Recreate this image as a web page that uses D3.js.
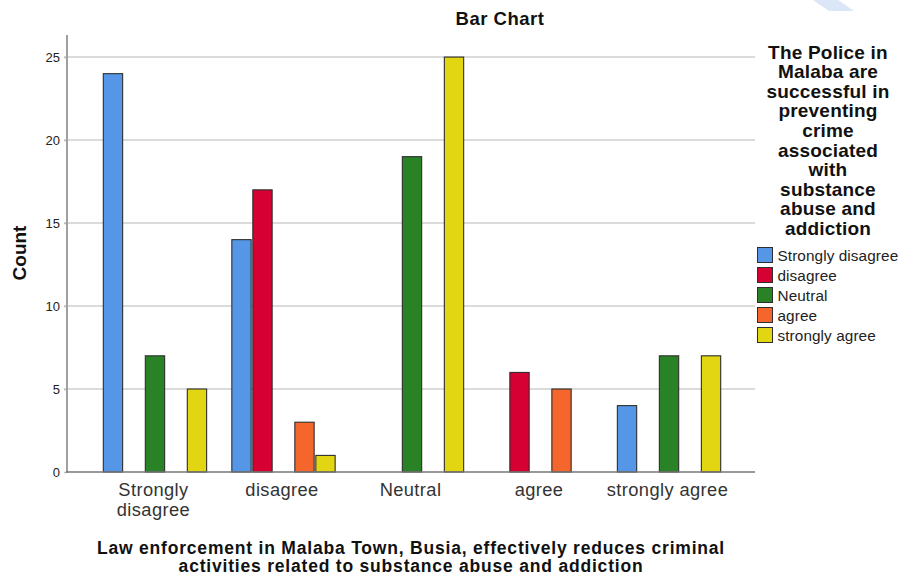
<!DOCTYPE html>
<html>
<head>
<meta charset="utf-8">
<script src="https://cdn.jsdelivr.net/npm/d3@7"></script>
<style>
  html, body { margin: 0; padding: 0; background: #fff; }
  svg { display: block; font-family: "Liberation Sans", Arial, sans-serif; }
</style>
</head>
<body>
<svg id="chart" width="899" height="577"></svg>
<script>
// ---- data ----
const categories = ["Strongly disagree", "disagree", "Neutral", "agree", "strongly agree"];
const categoryLabels = [["Strongly", "disagree"], ["disagree"], ["Neutral"], ["agree"], ["strongly agree"]];
const seriesNames = ["Strongly disagree", "disagree", "Neutral", "agree", "strongly agree"];
const seriesColors = ["#5596e6", "#d60032", "#2a8227", "#f4662b", "#e2d511"];
const valuesStronglyDisagree = [24, 14, 0, 0, 4];
const valuesDisagree = [0, 17, 0, 6, 0];
const valuesNeutral = [7, 0, 19, 0, 7];
const valuesAgree = [0, 3, 0, 5, 0];
const valuesStronglyAgree = [5, 1, 25, 0, 7];
const yTicks = [0, 5, 10, 15, 20, 25];
const chartTitle = "Bar Chart";
const yTitle = "Count";
const xTitleLines = ["Law enforcement in Malaba Town, Busia, effectively reduces criminal",
                     "activities related to substance abuse and addiction"];
const legendTitleLines = ["The Police in", "Malaba are", "successful in", "preventing", "crime",
                          "associated", "with", "substance", "abuse and", "addiction"];

const seriesValues = [valuesStronglyDisagree, valuesDisagree, valuesNeutral, valuesAgree, valuesStronglyAgree];

// ---- layout ----
const svg = d3.select("#chart");
const plotLeft = 67, plotRight = 755, plotTop = 35, plotBottom = 472;

// faint decorative watermark stroke (top right of the original image)
svg.append("path").attr("d", "M813,0 L838,0 L854,11 L829,11 Z").attr("fill", "#dbe7f6");

const y = d3.scaleLinear().domain([0, 26.33]).range([plotBottom, plotTop]);
const x0 = d3.scaleBand().domain(categories).range([plotLeft + 2, plotRight]).paddingInner(0).paddingOuter(0.169);
const groupWidth = 105;
const x1 = d3.scaleBand().domain(seriesNames).range([0, groupWidth]).paddingInner(0.08).paddingOuter(0.04);

// gridlines
svg.append("g").selectAll("line").data(yTicks.filter(d => d > 0)).join("line")
  .attr("x1", plotLeft - 3).attr("x2", plotRight)
  .attr("y1", d => y(d)).attr("y2", d => y(d))
  .attr("stroke", "#cfcfcf").attr("stroke-width", 1.5);

// y axis via d3
const yAxis = d3.axisLeft(y).tickValues(yTicks).tickSize(3).tickPadding(4);
const yg = svg.append("g").attr("transform", `translate(${plotLeft},0)`).call(yAxis);
yg.select(".domain").remove();
yg.selectAll(".tick line").attr("stroke", "#bdbdbd").attr("stroke-width", 1.5);
yg.selectAll(".tick text").attr("font-size", 13).attr("fill", "#222")
  .attr("font-family", "'Liberation Sans', Arial, sans-serif");

// axis lines
svg.append("line").attr("x1", plotLeft).attr("x2", plotLeft).attr("y1", plotTop).attr("y2", plotBottom + 1)
  .attr("stroke", "#a0a0a0").attr("stroke-width", 2);

// bars
const groups = svg.append("g").selectAll("g").data(categories).join("g")
  .attr("transform", c => `translate(${x0(c) + (x0.bandwidth() - groupWidth) / 2},0)`);

groups.selectAll("rect")
  .data((c, ci) => seriesNames.map((s, si) => ({ s, si, v: seriesValues[si][ci] })).filter(d => d.v > 0))
  .join("rect")
  .attr("x", d => x1(d.s))
  .attr("width", x1.bandwidth())
  .attr("y", d => y(d.v))
  .attr("height", d => y(0) - y(d.v))
  .attr("fill", d => seriesColors[d.si])
  .attr("stroke", "#2e2e2e").attr("stroke-width", 1.1);

// x axis line
svg.append("line").attr("x1", plotLeft - 1).attr("x2", plotRight).attr("y1", plotBottom).attr("y2", plotBottom)
  .attr("stroke", "#777").attr("stroke-width", 1.6);

// x labels
const xl = svg.append("g").selectAll("text").data(categories).join("text")
  .attr("x", c => x0(c) + x0.bandwidth() / 2 - 1.5)
  .attr("y", 496)
  .attr("text-anchor", "middle")
  .attr("font-size", 18.3)
  .attr("letter-spacing", 0.4)
  .attr("fill", "#333");
xl.selectAll("tspan").data((c, i) => categoryLabels[i]).join("tspan")
  .attr("x", function () { return d3.select(this.parentNode).attr("x"); })
  .attr("dy", (d, i) => i === 0 ? 0 : 19.5)
  .text(d => d);

// title
svg.append("text").attr("x", 500).attr("y", 25).attr("text-anchor", "middle")
  .attr("font-size", 18.5).attr("letter-spacing", 0.5).attr("font-weight", "bold").attr("fill", "#111").text(chartTitle);

// y title
svg.append("text").attr("transform", "translate(26,253) rotate(-90)").attr("text-anchor", "middle")
  .attr("font-size", 19).attr("font-weight", "bold").attr("fill", "#111").text(yTitle);

// x title
svg.append("g").selectAll("text").data(xTitleLines).join("text")
  .attr("x", 411).attr("y", (d, i) => 554 + i * 18)
  .attr("text-anchor", "middle").attr("font-size", 17.5).attr("letter-spacing", 0.8)
  .attr("font-weight", "bold").attr("fill", "#111")
  .text(d => d);

// legend title
svg.append("g").selectAll("text").data(legendTitleLines).join("text")
  .attr("x", 828).attr("y", (d, i) => 58.5 + i * 19.6)
  .attr("text-anchor", "middle").attr("font-size", 19).attr("letter-spacing", 0.2)
  .attr("font-weight", "bold").attr("fill", "#111")
  .text(d => d);

// legend items
const li = svg.append("g").selectAll("g").data(seriesNames).join("g")
  .attr("transform", (d, i) => `translate(757.5,${247.5 + i * 20})`);
li.append("rect").attr("width", 15).attr("height", 15)
  .attr("fill", (d, i) => seriesColors[i]).attr("stroke", "#2e2e2e").attr("stroke-width", 1);
li.append("text").attr("x", 20).attr("y", 13).attr("font-size", 15.3).attr("letter-spacing", 0.1)
  .attr("fill", "#222").text(d => d);
</script>
</body>
</html>
